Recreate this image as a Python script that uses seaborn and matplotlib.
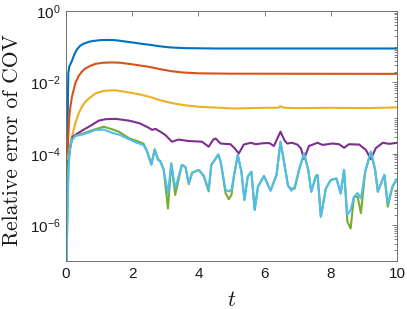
import numpy as np
import pandas as pd
import matplotlib
matplotlib.use("Agg")
import matplotlib.pyplot as plt
import matplotlib.ticker as mticker
import seaborn as sns

# ---------------- data (log10 of relative error) ----------------
t_blue = [0.0, 0.06, 0.07, 0.1, 0.17, 0.25, 0.32, 0.42, 0.52, 0.7, 0.85, 1.05, 1.24, 1.45,
          1.6, 1.8, 2.05, 2.3, 2.55, 2.85, 3.15, 3.6, 4.5, 6.0, 8.0, 10.0]
blue_log = [-8.0, -2.3, -1.75, -1.55, -1.42, -1.22, -1.09, -0.98, -0.92, -0.86, -0.835, -0.815,
            -0.81, -0.815, -0.83, -0.855, -0.887, -0.92, -0.95, -0.99, -1.02, -1.04, -1.05,
            -1.05, -1.05, -1.05]

t_orange = [0.05, 0.07, 0.1, 0.13, 0.18, 0.28, 0.38, 0.48, 0.58, 0.75, 0.89, 1.1, 1.39, 1.65,
            1.9, 2.2, 2.55, 2.85, 3.15, 3.5, 4.0, 5.0, 10.0]
orange_log = [-4.0, -3.5, -2.95, -2.7, -2.40, -2.03, -1.82, -1.70, -1.61, -1.53, -1.48, -1.45,
              -1.44, -1.45, -1.48, -1.52, -1.57, -1.63, -1.68, -1.72, -1.745, -1.755, -1.76]

t_yellow = [0.05, 0.08, 0.13, 0.18, 0.28, 0.38, 0.48, 0.58, 0.69, 0.89, 1.05, 1.19, 1.5, 1.9,
            2.2, 2.55, 2.85, 3.2, 3.6, 4.0, 4.4, 5.1, 6.0, 6.4, 6.48, 6.6, 7.0, 8.0, 9.0, 10.0]
yellow_log = [-4.15, -3.99, -3.75, -3.52, -3.15, -2.87, -2.68, -2.55, -2.45, -2.31, -2.26,
              -2.23, -2.22, -2.28, -2.33, -2.41, -2.5, -2.58, -2.64, -2.68, -2.70, -2.73,
              -2.71, -2.71, -2.67, -2.71, -2.72, -2.71, -2.72, -2.70]

t_purple = [0.0, 0.06, 0.13, 0.2, 0.38, 0.5, 0.69, 0.85, 0.99, 1.19, 1.5, 1.9, 2.04,
            2.24, 2.39, 2.5, 2.6, 2.7, 2.85, 3.0, 3.2, 3.4, 3.55, 3.7, 3.9, 4.11, 4.31, 4.45,
            4.52, 4.67, 4.8, 4.97, 5.1, 5.22, 5.37, 5.58, 5.73, 5.98, 6.15, 6.28, 6.48, 6.6,
            6.68, 6.83, 6.99, 7.1, 7.19, 7.34, 7.6, 7.75, 8.05, 8.25, 8.4, 8.55, 8.86, 9.06,
            9.21, 9.36, 9.57, 9.77, 10.0]
purple_log = [-4.7, -4.36, -3.80, -3.52, -3.41, -3.34, -3.24, -3.15, -3.07, -3.03, -3.02,
              -3.07, -3.1, -3.15, -3.22, -3.27, -3.33, -3.30, -3.38, -3.47, -3.66, -3.60, -3.62,
              -3.64, -3.65, -3.66, -3.80, -3.60, -3.57, -3.71, -3.72, -3.73, -3.85, -3.99,
              -3.74, -3.69, -3.73, -3.70, -3.70, -3.78, -3.38, -3.62, -3.71, -3.69, -3.74,
              -3.85, -4.15, -3.78, -3.69, -3.75, -3.71, -3.73, -3.83, -3.73, -3.74, -3.89,
              -4.15, -3.84, -3.69, -3.72, -3.69]

t_noisy = [0.0, 0.06, 0.1, 0.14, 0.18, 0.28, 0.48, 0.69, 0.89, 1.14, 1.39, 1.6, 1.9, 2.14,
           2.34, 2.44, 2.58, 2.68, 2.78, 2.85, 2.95, 3.08, 3.18, 3.30, 3.5,
           3.61, 3.71, 3.81, 4.01, 4.16, 4.31, 4.39, 4.6, 4.67, 4.82, 4.92, 5.0, 5.07, 5.19,
           5.30, 5.39, 5.49, 5.6, 5.70, 5.80, 5.98, 6.18, 6.36, 6.48, 6.6, 6.71, 6.81, 6.91,
           7.04, 7.19, 7.32, 7.41, 7.55, 7.60, 7.70, 7.85, 8.0, 8.17, 8.30, 8.40, 8.5, 8.6,
           8.7, 8.81, 8.91, 9.04, 9.21, 9.34, 9.42, 9.62, 9.72, 9.87, 10.0]
cyan_log = [-8.0, -5.0, -4.0, -3.75, -3.61, -3.50, -3.46, -3.40, -3.33, -3.32, -3.41, -3.46,
            -3.59, -3.69, -3.75, -3.92, -4.31, -3.89, -4.17, -4.22, -4.45,
            -5.11, -4.27, -4.97, -4.31, -4.37, -4.83, -4.53, -4.45, -4.6, -5.01, -4.31, -4.02,
            -4.2, -5.01, -5.05, -5.0, -4.64, -4.03, -4.50, -5.29, -4.64, -4.50, -5.57, -4.92,
            -4.62, -5.03, -4.59, -3.66, -4.3, -4.90, -5.03, -4.92, -4.45, -3.99, -4.45, -5.06,
            -4.62, -4.59, -5.76, -4.97, -4.73, -4.69, -5.11, -4.45, -5.71, -5.57, -5.2, -5.1,
            -5.25, -4.50, -3.94, -4.45, -5.06, -4.59, -5.39, -4.9, -4.71]
green_log = [-8.0, -4.45, -3.95, -3.72, -3.6, -3.49, -3.44, -3.37, -3.31, -3.24, -3.31, -3.38,
             -3.56, -3.64, -3.71, -3.9, -4.28, -3.87, -4.15, -4.2, -4.43,
             -5.53, -4.27, -5.15, -4.31, -4.37, -4.85, -4.53, -4.45, -4.62, -5.05, -4.31, -4.02,
             -4.2, -5.1, -5.27, -5.15, -4.64, -4.03, -4.50, -5.29, -4.64, -4.50, -5.57, -4.92,
             -4.62, -5.03, -4.59, -3.66, -4.3, -4.90, -4.98, -4.97, -4.45, -3.99, -4.45, -5.06,
             -4.62, -4.59, -5.76, -4.97, -4.73, -4.69, -5.11, -4.45, -5.90, -6.09, -5.2, -5.2,
             -5.66, -4.50, -3.94, -4.45, -5.06, -4.59, -5.48, -4.9, -4.71]

y_tick_exps = [0, -2, -4, -6]
x_ticks = [0, 2, 4, 6, 8, 10]

colors = {"blue": "#0072BD", "orange": "#D95319", "yellow": "#EDB120",
          "purple": "#7E2F8E", "green": "#77AC30", "cyan": "#4DBEEE"}

# ---------------- plotting ----------------
sns.set_style("white")
plt.rcParams["font.family"] = ["Liberation Sans", "DejaVu Sans"]
plt.rcParams["mathtext.fontset"] = "custom"
plt.rcParams["mathtext.rm"] = "Liberation Sans"
plt.rcParams["mathtext.it"] = "Liberation Sans:italic"

fig = plt.figure(figsize=(4.07, 3.09), dpi=100)
ax = fig.add_axes([66 / 407, 48 / 309, 331 / 407, 250 / 309])

series = [
    (t_blue, blue_log, "blue"),
    (t_orange, orange_log, "orange"),
    (t_yellow, yellow_log, "yellow"),
    (t_purple, purple_log, "purple"),
    (t_noisy, green_log, "green"),
    (t_noisy, cyan_log, "cyan"),
]
for tt, lv, name in series:
    df = pd.DataFrame({"t": tt, "err": 10.0 ** np.asarray(lv)})
    sns.lineplot(data=df, x="t", y="err", color=colors[name], lw=1.5,
                 estimator=None, sort=False, ax=ax)

ax.set_yscale("log")
ax.set_xlim(0, 10)
ax.set_ylim(1e-7, 1e0)

ax.set_xticks(x_ticks)
ax.set_xticklabels([str(v) for v in x_ticks])
ax.yaxis.set_major_locator(mticker.FixedLocator([10.0 ** e for e in y_tick_exps]))
ax.set_yticklabels([r"$10^{%d}$" % e for e in y_tick_exps])
minor = [m * 10.0 ** d for d in range(-7, 0) for m in range(1, 10)
         if not (m == 1 and d in y_tick_exps)]
ax.yaxis.set_minor_locator(mticker.FixedLocator(minor))
ax.yaxis.set_minor_formatter(mticker.NullFormatter())

edge = "#6e6e6e"
for s in ax.spines.values():
    s.set_visible(True)
    s.set_color(edge)
    s.set_linewidth(0.7)
ax.tick_params(axis="both", which="both", direction="in", top=True, right=True,
               color=edge, width=0.6, labelsize=11, labelcolor="#1a1a1a")
ax.tick_params(axis="both", which="major", length=3.5, pad=4)
ax.tick_params(axis="y", which="minor", length=2)

ax.set_xlabel("t", fontfamily="cmmi10", fontsize=16, color="#1a1a1a")
ax.xaxis.set_label_coords(0.5, -0.115)
ax.set_ylabel("Relative error of COV", fontfamily="cmr10", fontsize=15.6,
              color="#1a1a1a")
ax.yaxis.set_label_coords(-0.133, 0.485)

fig.savefig("out.png", dpi=100)
